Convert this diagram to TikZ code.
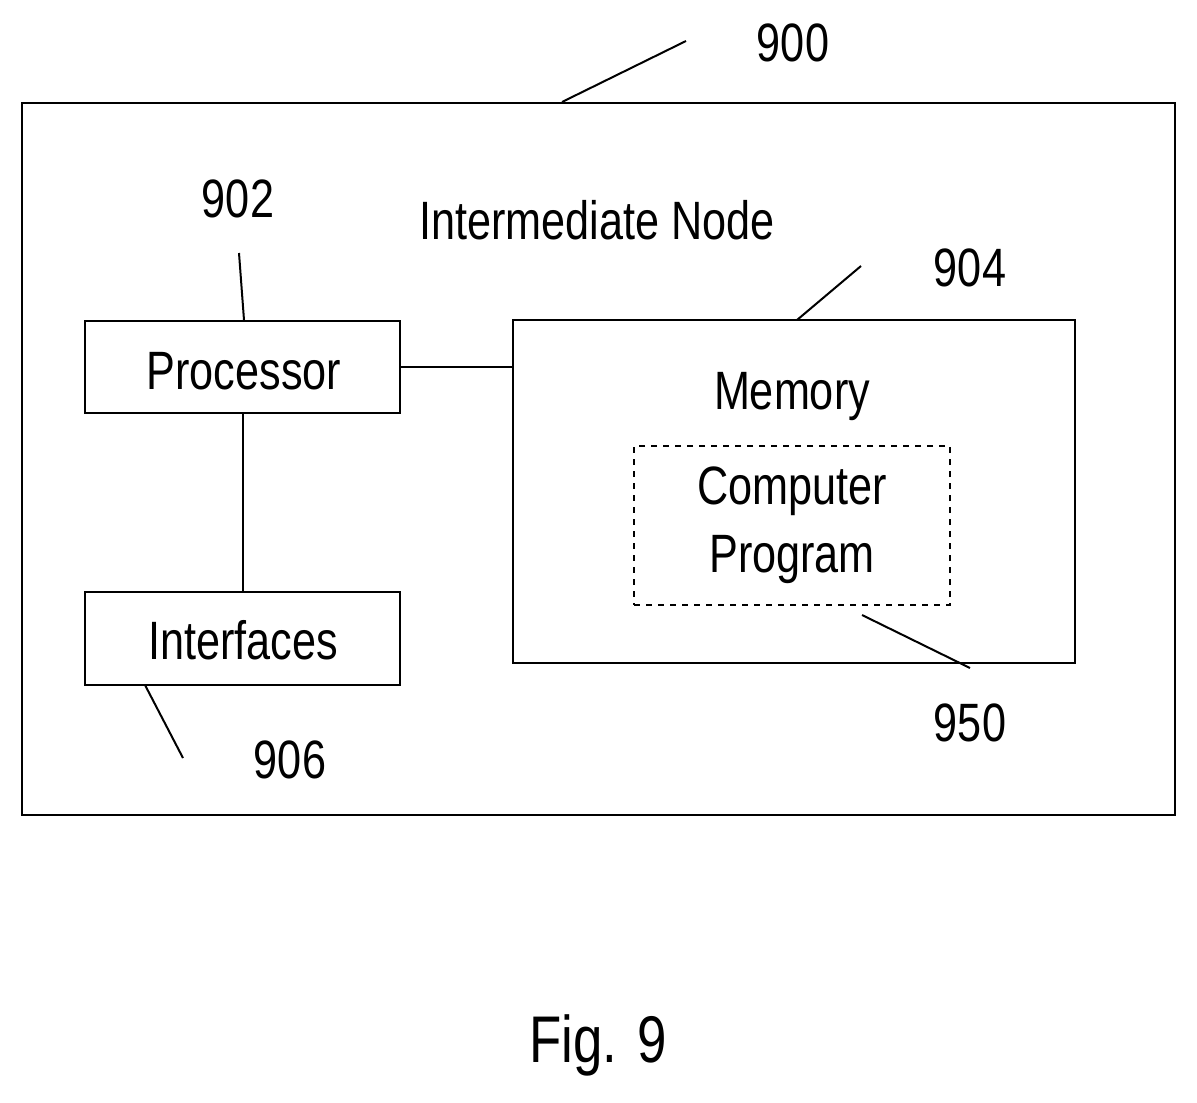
\documentclass[tikz,border=0pt]{standalone}
\usepackage{fontspec}
\setmainfont{Liberation Sans}[FakeStretch=0.8]
\begin{document}
\begin{tikzpicture}[x=0.5pt,y=-0.5pt,
  box/.style={draw,line width=1.3pt},
  lead/.style={line width=1pt},
  lbl/.style={font=\fontsize{27}{32}\selectfont,inner sep=0pt},
  big/.style={font=\fontsize{33}{38}\selectfont,inner sep=0pt}]
\useasboundingbox (0,0) rectangle (1197,1102);
\draw[box] (22,103) rectangle (1175,815);
\coordinate (o1) at (562,102); \coordinate (o2) at (686,41);
\draw[lead] (o1) -- (o2);
\node[lbl] (l900) at (793,43) {900};
\node[lbl] (l902) at (238,199) {902};
\node[lbl] (title) at (597,220) {Intermediate Node};
\node[box,minimum width=157.5pt,minimum height=46pt] (proc) at (242.5,367) {};
\node[lbl] (proct) at (244,371) {Processor};
\node[box,minimum width=281pt,minimum height=171.5pt] (mem) at (794,491.5) {};
\node[lbl] (memt) at (792,397) {Memory};
\node[draw,dashed,line width=1.1pt,minimum width=158pt,minimum height=79.5pt,lbl,align=center] (prog) at (792,525.5) {Computer\\[2pt]Program};
\node[box,minimum width=157.5pt,minimum height=46.5pt] (intf) at (242.5,638.5) {};
\node[lbl] (intft) at (243,640) {Interfaces};
\node[lbl] (l904) at (970,268) {904};
\node[lbl] (l950) at (970,723) {950};
\node[lbl] (l906) at (290,760) {906};
\node[big] (fig) at (598,1045) {Fig. 9};
\draw[lead] (proc.east) -- (mem.west |- proc.east);
\draw[lead] (proc.south) -- (intf.north);
\coordinate (a1) at (239,253); \draw[lead] (a1) -- (244,320);
\coordinate (a2) at (861,266); \draw[lead] (a2) -- (797,320);
\coordinate (a3) at (862,615); \coordinate (a4) at (970,668); \draw[lead] (a3) -- (a4);
\coordinate (a5) at (145,685); \coordinate (a6) at (183,758); \draw[lead] (a5) -- (a6);
\end{tikzpicture}
\end{document}
